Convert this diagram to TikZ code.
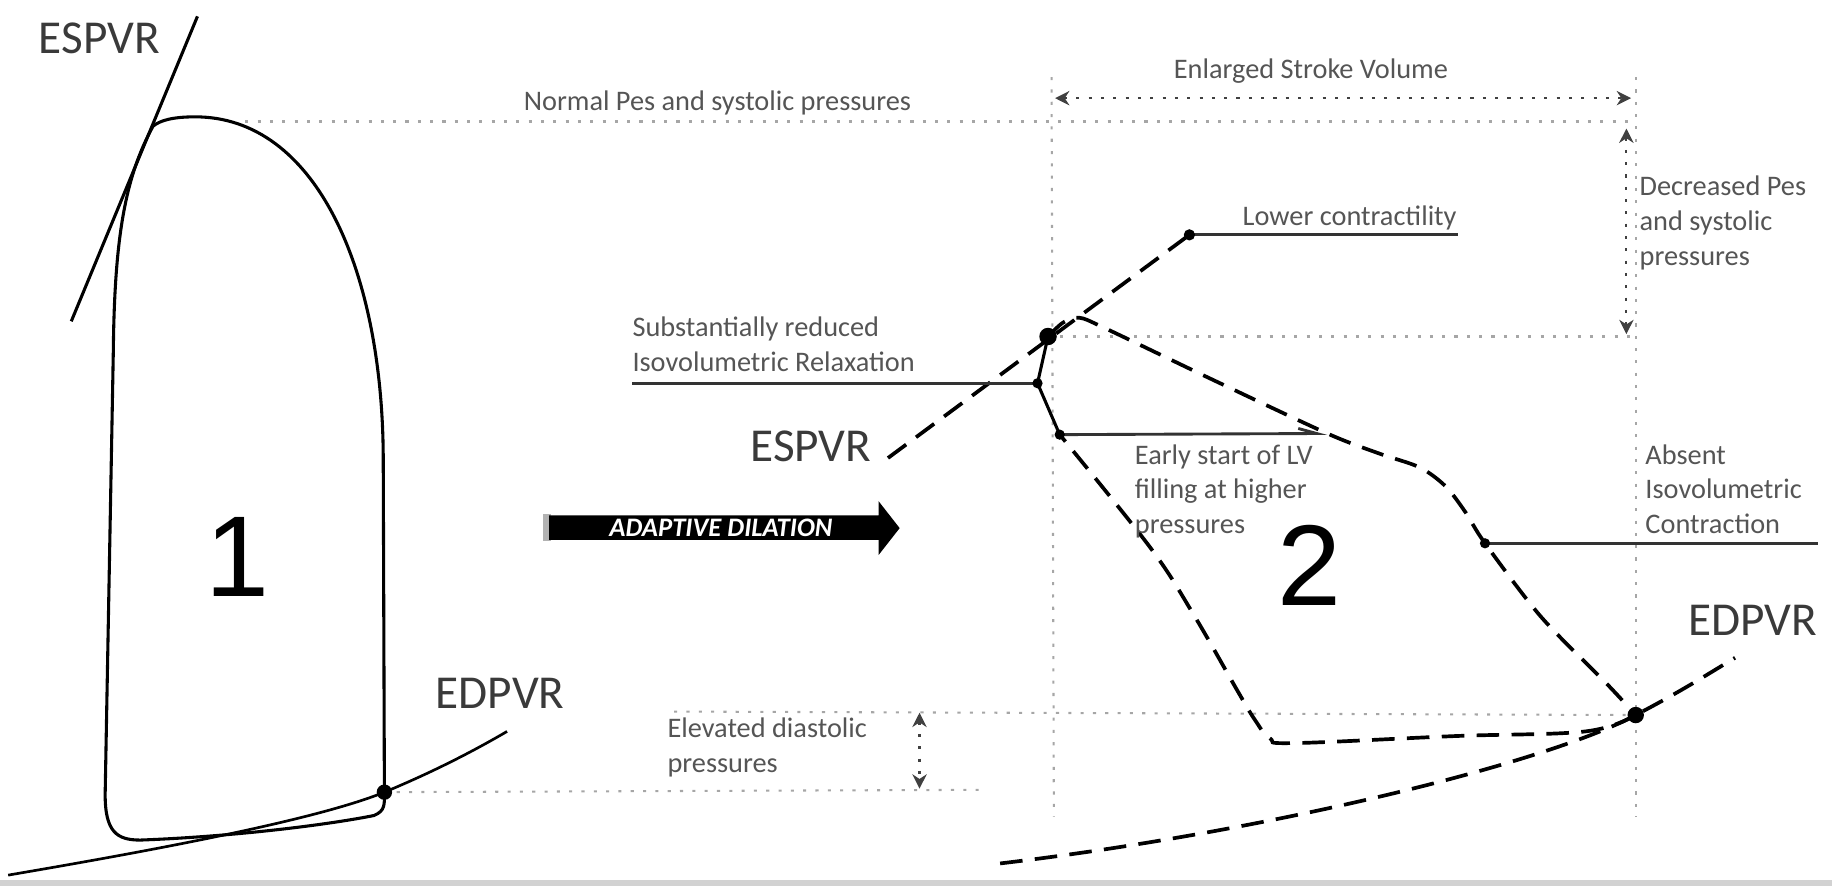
\documentclass[tikz,border=0pt]{standalone}
\usepackage{fontspec}
\setmainfont{Carlito}
\newfontfamily\digitfont{Liberation Sans}
\usetikzlibrary{arrows.meta}
\definecolor{notegray}{HTML}{555555}
\definecolor{labgray}{HTML}{3A3A3A}
\tikzset{
  pvline/.style={line width=1.5pt},
  pvdash/.style={line width=1.8pt, dash pattern=on 11pt off 6pt},
  guide/.style={gray!70, line width=1pt, dash pattern=on 1.5pt off 4.5pt},
  leader/.style={line width=1.4pt, black!80},
  dot/.style={circle, fill=black, inner sep=0pt, minimum size=#1},
  note/.style={text=notegray, font=\fontsize{13.8}{17}\selectfont, inner sep=0pt, align=left},
  curvename/.style={text=labgray, font=\fontsize{23}{23}\selectfont, inner sep=0pt},
  loopnum/.style={font=\digitfont\fontsize{56}{56}\selectfont, inner sep=0pt},
  dimarrow/.style={guide, black!75, {Stealth[length=7pt,width=7pt]}-{Stealth[length=7pt,width=7pt]}},
}
\begin{document}
\begin{tikzpicture}[x=0.02cm, y=-0.02cm]
    \useasboundingbox (0,0) rectangle (1568,758);
    % key points of the two loops
    \coordinate (esA) at (131,108);
    \coordinate (edA) at (329,678);
    \coordinate (es2) at (897,288);
    \coordinate (ir) at (888,328);
    \coordinate (ef) at (907,372);
    \coordinate (lc) at (1018,201);
    \coordinate (ic) at (1271,465);
    \coordinate (ed2) at (1400,612);

    % loop 1
    \draw[pvline] (edA) -- (328,390) .. controls (327,230) and (270,100) .. (167,100)
        .. controls (148,100) and (137,103) .. (esA) .. controls (108,150) and (98,200) .. (97,300)
        -- (90,680) .. controls (90,712) and (100,719) .. (120,719)
        .. controls (200,716) and (280,706) .. (320,698) .. controls (330,694) and (329,688) .. (edA);
    \draw[pvline] (169,14) -- (61,275);
    \draw[pvline, line width=1.3pt] (7,749) .. controls (130,728) and (270,702) .. (edA)
        .. controls (370,661) and (405,643) .. (434,626);
    \node[curvename] (espvrA) at (85,33) {ESPVR};
    \node[curvename] (edpvrA) at (428,593) {EDPVR};
    \node[loopnum] (numA) at (203,477) {1};

    % dilation arrow
    \fill[gray!60] (465,440) rectangle (472,463);
    \fill[black] (470,441) -- (752,441) -- (752,429) -- (770,452) -- (752,475) -- (752,462) -- (470,462) -- cycle;
    \node[font=\fontsize{13}{13}\selectfont\bfseries\itshape, text=white, inner sep=0pt] (dil) at (617,452) {ADAPTIVE DILATION};

    % guide lines
    \draw[guide] (210,104) -- (1400,104);
    \draw[guide] (900,66) -- (902,699);
    \draw[guide] (1400,66) -- (1400,699);
    \draw[guide] (es2) -- (1400,288);
    \draw[guide] (577,609) -- (ed2);
    \draw[guide] (edA) -- (839,676);
    \draw[dimarrow] (903,84) -- (1396,84);
    \draw[dimarrow] (1392,110) -- (1392,286);
    \draw[dimarrow] (787,610) -- (787,675);

    % loop 2
    \draw[pvline] (es2) -- (ir) -- (ef);
    \draw[pvdash] plot[smooth, tension=0.5] coordinates {(897,288) (910,276) (924,272) (946,281)
        (1040,326) (1136,371) (1180,388) (1215,400) (1237,416) (1254,438) (1271,465) (1319,528) (1375,585) (1400,612)};
    \draw[pvdash] plot[smooth, tension=0.6] coordinates {(1400,612) (1357,626) (1245,630) (1107,636)
        (1087,632) (1074,616) (1059,591) (1021,525) (984,468) (907,372)};
    \draw[pvdash] (760,392) -- (lc);
    \draw[pvdash] (856,739) .. controls (1100,710) and (1330,650) .. (ed2)
        .. controls (1440,591) and (1460,578) .. (1485,563);
    \node[curvename] (espvrB) at (694,382) {ESPVR};
    \node[curvename] (edpvrB) at (1500,531) {EDPVR};
    \node[loopnum] (numB) at (1121,484) {2};

    % leaders
    \coordinate (irL) at (541,328);
    \coordinate (efR) at (1136,371);
    \coordinate (lcR) at (1248,201);
    \coordinate (icR) at (1556,465);
    \draw[leader] (irL) -- (ir);
    \draw[leader, -{Straight Barb[left,length=9pt,width=5pt]}] (ef) -- (efR);
    \draw[leader] (lc) -- (lcR);
    \draw[leader] (ic) -- (icR);

    % dots
    \foreach \p/\s in {edA/7.5pt, es2/8.5pt, ir/5pt, ef/5pt, lc/5.5pt, ic/5pt, ed2/8pt}
        \node[dot=\s] (\p-pt) at (\p) {};

    % texts
    \node[note] (normal) at (614,88) {Normal Pes and systolic pressures};
    \node[note] (sv) at (1122,61) {Enlarged Stroke Volume};
    \node[note, anchor=north west] (decr) at (1403,150) {Decreased Pes\\and systolic\\pressures};
    \node[note, anchor=south east] (lower) at (1247,197) {Lower contractility};
    \node[note, anchor=north west] (relax) at (541,271) {Substantially reduced\\Isovolumetric Relaxation};
    \node[note, anchor=north west] (early) at (971,380) {Early start of LV\\filling at higher\\pressures};
    \node[note, anchor=north west] (absent) at (1408,380) {Absent\\Isovolumetric\\Contraction};
    \node[note, anchor=north west] (elev) at (571,614) {Elevated diastolic\\pressures};

    \fill[gray!35] (0,753) rectangle (1568,758);
\end{tikzpicture}
\end{document}
